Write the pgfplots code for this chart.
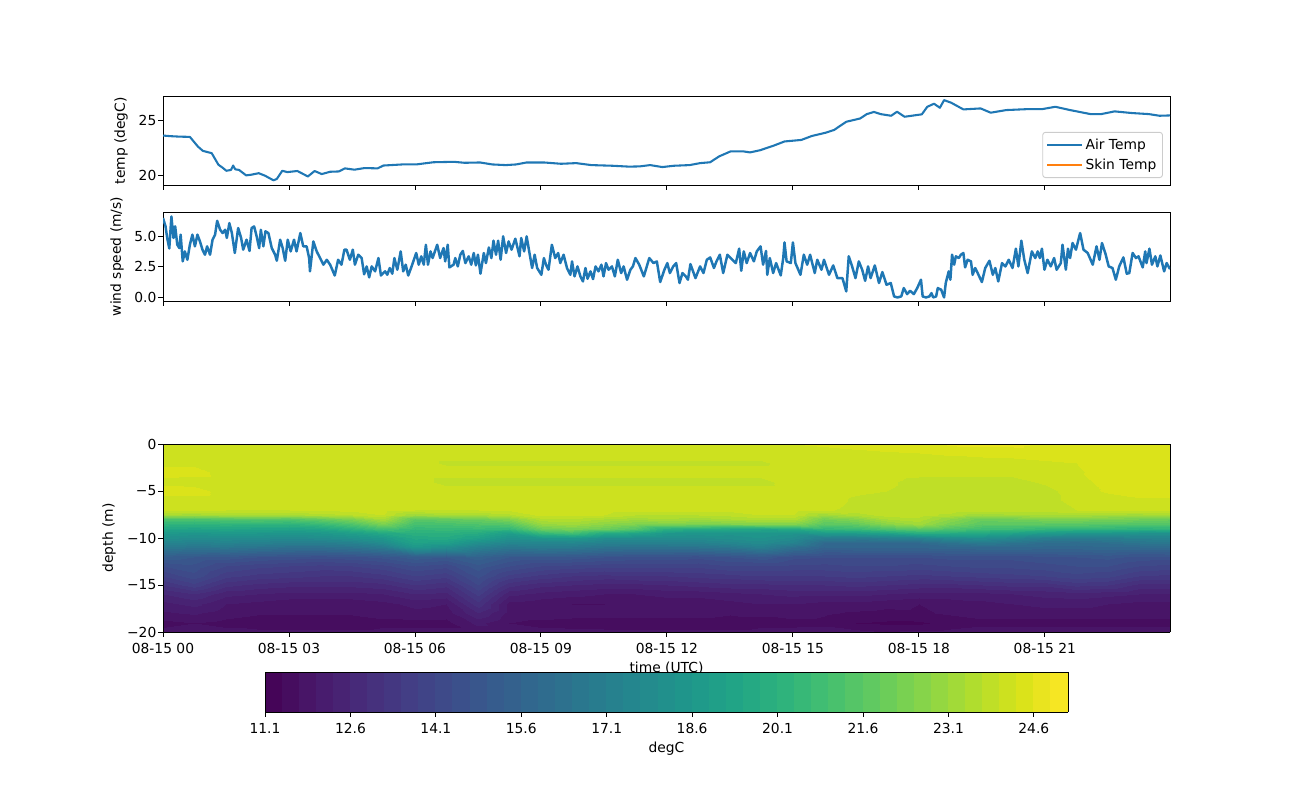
\documentclass[border=0pt]{standalone}
\usepackage{fontspec}
\setmainfont{DejaVu Sans}
\usepackage{pgfplots}
\pgfplotsset{compat=1.18}
\usepgfplotslibrary{colormaps}
\definecolor{mplblue}{HTML}{1F77B4}
\definecolor{mplorange}{HTML}{FF7F0E}
\pgfplotsset{
  every axis/.append style={
    scale only axis, anchor=south west,
    font=\fontsize{10}{12}\selectfont,
    line width=0.65pt,
    tick align=outside, tick pos=left,
    major tick length=3.5pt,
    every tick/.style={black, line width=0.65pt},
    xmin=0, xmax=23.98,
    xtick={0,3,6,9,12,15,18,21},
    y tick label style={inner sep=1pt},
    x tick label style={yshift=-1pt},
  },
}
\begin{document}
\begin{tikzpicture}
\path[use as bounding box] (0,0) rectangle (13in,-8in);

% --- air temperature ---
\begin{axis}[
  at={(1.63in,-1.85in)}, width=10.07in, height=0.885in,
  ymin=19.12, ymax=27.21,
  ytick={20,25}, yticklabels={20,25},
  xticklabels={},
  ylabel={temp (degC)},
  ylabel style={at={(axis description cs:-0.0417,0.5)}, anchor=center},
  legend style={at={(0.993,0.079)}, anchor=south east, draw=black!20,
    rounded corners=2pt, nodes={font=\fontsize{10}{12}\selectfont},
    row sep=1.5pt, inner sep=2.5pt},
  legend cell align=left,
  legend image code/.code={\path (0pt,0pt) -- (25pt,0pt); \draw[#1] (0pt,0pt) -- (20pt,0pt);},
]
\addplot[mplblue, line width=1.5pt, line join=round] table {
0 23.64
0.2 23.58
0.4 23.54
0.64 23.52
0.83 22.64
0.95 22.24
1.16 22.03
1.32 20.97
1.4 20.76
1.51 20.42
1.62 20.5
1.67 20.9
1.72 20.55
1.81 20.5
1.98 20
2.1 20.06
2.28 20.2
2.43 19.97
2.63 19.55
2.71 19.67
2.84 20.42
2.96 20.3
3.2 20.4
3.45 19.9
3.61 20.4
3.78 20.12
3.98 20.33
4.19 20.36
4.33 20.64
4.56 20.52
4.8 20.67
5.11 20.64
5.25 20.9
5.7 21.0
6.03 21.0
6.44 21.2
6.93 21.24
7.18 21.15
7.55 21.18
7.84 21.0
8.16 20.94
8.41 21.0
8.66 21.18
9.07 21.18
9.48 21.06
9.84 21.12
10.2 20.94
10.7 20.88
11.1 20.8
11.35 20.82
11.6 20.94
11.89 20.76
12.17 20.88
12.54 20.94
12.79 21.12
13.03 21.2
13.24 21.73
13.52 22.2
13.81 22.2
13.98 22.1
14.22 22.3
14.55 22.73
14.8 23.1
15.2 23.24
15.45 23.6
15.78 23.9
15.98 24.15
16.27 24.9
16.6 25.2
16.76 25.6
16.93 25.8
17.09 25.6
17.34 25.45
17.48 25.82
17.66 25.36
18.07 25.58
18.2 26.27
18.36 26.55
18.5 26.18
18.6 26.88
18.77 26.64
19.06 26.03
19.47 26.12
19.71 25.73
20.08 25.97
20.61 26.06
20.94 26.06
21.25 26.27
21.6 25.97
22.09 25.6
22.34 25.6
22.66 25.85
23.07 25.7
23.48 25.6
23.73 25.45
23.98 25.48
};
\addlegendentry{Air Temp}
\addlegendimage{mplorange, line width=1.5pt}
\addlegendentry{Skin Temp}
\end{axis}

% --- wind speed ---
\begin{axis}[
  at={(1.63in,-3.01in)}, width=10.07in, height=0.89in,
  ymin=-0.27, ymax=6.96,
  ytick={0,2.5,5}, yticklabels={0.0,2.5,5.0},
  xticklabels={},
  ylabel={wind speed (m/s)},
  ylabel style={at={(axis description cs:-0.0457,0.5)}, anchor=center},
]
\addplot[mplblue, line width=1.8pt, line join=round] table {
0.00 6.47
0.06 5.8
0.10 4.85
0.15 4.0
0.20 6.6
0.25 4.85
0.29 5.8
0.34 4.3
0.39 4.03
0.42 5.12
0.47 2.95
0.52 3.76
0.58 3.08
0.64 4.3
0.70 5.12
0.76 4.17
0.82 5.12
0.88 4.57
0.94 3.9
1.0 3.49
1.05 4.17
1.12 3.49
1.18 4.71
1.24 5.12
1.29 6.25
1.36 5.52
1.42 5.25
1.48 5.52
1.52 4.85
1.58 6.06
1.64 5.25
1.71 3.63
1.79 5.66
1.86 4.85
1.91 3.9
1.99 4.71
2.06 3.8
2.11 5.66
2.17 5.79
2.23 4.98
2.29 4.03
2.33 5.52
2.39 4.17
2.44 5.39
2.51 5.25
2.59 4.03
2.67 3.49
2.71 3.0
2.79 4.71
2.85 4.03
2.91 3.0
2.97 4.71
3.04 3.76
3.12 4.71
3.18 3.76
3.27 5.25
3.34 4.17
3.42 4.17
3.48 3.22
3.50 2.14
3.58 4.57
3.66 3.76
3.74 3.22
3.82 2.68
3.90 3.08
3.98 2.68
4.09 1.8
4.17 3.08
4.25 2.68
4.32 3.9
4.37 3.9
4.45 3.08
4.52 3.9
4.57 2.68
4.65 3.49
4.73 3.22
4.79 1.9
4.85 2.54
4.91 1.65
4.97 2.54
5.05 2.14
5.13 3.22
5.19 1.8
5.29 2.14
5.34 1.86
5.40 2.41
5.46 1.95
5.51 3.22
5.58 2.27
5.66 3.76
5.72 2.14
5.78 2.68
5.84 1.8
5.92 2.54
6.03 3.63
6.09 2.68
6.15 3.36
6.21 2.68
6.26 4.3
6.31 2.68
6.37 3.76
6.42 3.22
6.53 4.3
6.60 3.22
6.68 4.03
6.72 2.95
6.78 4.3
6.82 2.46
6.92 2.68
6.96 3.22
7.02 2.54
7.08 3.49
7.14 3.8
7.2 2.81
7.28 3.36
7.34 2.68
7.40 3.63
7.45 2.62
7.50 3.49
7.56 1.95
7.64 3.63
7.69 2.81
7.76 4.08
7.82 3.22
7.87 4.63
7.93 3.49
7.98 4.63
8.04 3.08
8.10 4.98
8.17 3.63
8.23 4.57
8.30 3.9
8.39 4.79
8.49 3.36
8.53 4.85
8.60 3.76
8.66 4.98
8.72 3.76
8.79 2.41
8.85 3.49
8.91 2.41
9.01 1.86
9.07 3.22
9.12 2.68
9.18 2.27
9.26 4.3
9.34 3.22
9.41 3.63
9.46 2.81
9.54 3.49
9.62 2.41
9.70 1.86
9.74 2.95
9.80 1.73
9.87 2.54
9.94 1.73
10.0 1.32
10.06 2.41
10.11 1.54
10.18 2.14
10.24 1.51
10.30 2.54
10.37 2.14
10.44 2.68
10.49 1.73
10.55 2.81
10.61 2.27
10.69 2.54
10.76 1.73
10.83 3.08
10.91 2.0
10.97 2.54
11.05 1.46
11.13 2.27
11.19 2.54
11.25 3.22
11.34 2.68
11.45 1.73
11.58 3.22
11.68 2.81
11.76 2.95
11.84 1.27
11.94 2.27
12.01 2.81
12.07 2.0
12.15 2.54
12.22 2.81
12.30 1.19
12.37 2.0
12.45 1.73
12.50 1.46
12.56 2.73
12.68 1.59
12.79 2.54
12.87 2.0
12.95 3.08
13.03 3.27
13.12 2.41
13.18 2.95
13.26 3.49
13.34 2.0
13.44 3.49
13.56 3.08
13.64 2.81
13.72 3.98
13.77 2.19
13.83 3.76
13.90 2.81
13.98 3.63
14.07 2.95
14.14 3.76
14.23 4.17
14.29 2.68
14.36 3.8
14.39 1.86
14.45 3.22
14.53 2.0
14.60 2.81
14.71 1.81
14.77 3.22
14.80 4.49
14.85 2.95
14.95 2.81
15.0 4.49
15.06 2.81
15.18 1.86
15.26 3.49
15.34 2.68
15.41 3.49
15.52 2.0
15.58 3.08
15.68 2.27
15.74 3.08
15.86 1.86
15.96 2.62
16.06 1.59
16.18 1.59
16.27 0.51
16.33 3.36
16.41 2.54
16.49 1.59
16.57 2.95
16.65 2.27
16.72 1.37
16.79 2.54
16.85 1.59
16.95 2.62
17.05 1.19
17.13 2.08
17.23 1.05
17.33 1.19
17.41 0.10
17.49 0.02
17.58 0.10
17.64 0.78
17.72 0.29
17.79 0.56
17.88 0.29
17.96 0.78
18.05 1.46
18.09 0.10
18.17 0.02
18.25 0.10
18.30 0.37
18.34 0.02
18.41 0.10
18.45 0.78
18.53 0.65
18.60 0.02
18.64 1.19
18.71 2.14
18.75 1.46
18.79 3.49
18.84 2.68
18.88 3.36
18.95 3.22
19.0 3.49
19.06 3.63
19.10 2.46
19.16 3.08
19.24 2.95
19.28 1.86
19.34 2.41
19.40 2.0
19.50 1.27
19.58 2.41
19.68 3.0
19.76 1.86
19.82 2.41
19.89 1.32
19.98 2.81
20.06 2.54
20.14 3.08
20.23 2.41
20.31 3.98
20.37 2.54
20.44 4.63
20.51 3.08
20.59 2.0
20.69 3.76
20.77 3.22
20.83 3.76
20.88 3.22
20.93 3.98
20.99 2.27
21.06 3.08
21.14 2.54
21.22 3.22
21.28 2.27
21.38 2.81
21.42 4.3
21.50 2.27
21.55 3.98
21.60 3.22
21.66 4.44
21.74 3.9
21.84 5.25
21.92 3.9
22.02 3.63
22.14 2.68
22.23 4.17
22.30 3.08
22.36 4.44
22.45 3.49
22.52 2.54
22.61 2.41
22.69 1.46
22.77 2.54
22.87 3.27
22.95 1.95
23.01 2.0
23.09 3.63
23.17 3.22
23.23 3.36
23.33 2.46
23.39 3.76
23.42 2.81
23.49 3.98
23.55 2.68
23.63 3.36
23.68 2.54
23.75 3.43
23.84 2.14
23.90 2.81
23.98 2.32
};
\end{axis}

% --- temperature section: 33 columns (every 0.75 h), 25 depths per column ---
\begin{axis}[
  at={(1.63in,-6.32in)}, width=10.07in, height=1.88in,
  view={0}{90},
  ymin=-20, ymax=0,
  ytick={-20,-15,-10,-5,0}, yticklabels={−20,−15,−10,−5,0},
  xticklabels={08-15 00,08-15 03,08-15 06,08-15 09,08-15 12,08-15 15,08-15 18,08-15 21},
  xlabel={time (UTC)},
  xlabel style={at={(axis description cs:0.5,-0.19)}, anchor=center},
  ylabel={depth (m)},
  ylabel style={at={(axis description cs:-0.0536,0.5)}, anchor=center},
  axis on top,
  point meta min=11.1, point meta max=25.2,
  colormap/viridis,
  % band colours taken at the band centres, as contourf does
  colormap={cb47}{colors of colormap=(10.6,31.9,53.2,74.5,95.7,117,138.3,159.6,180.9,202.1,223.4,244.7,266,287.2,308.5,329.8,351.1,372.3,393.6,414.9,436.2,457.4,478.7,500,521.3,542.6,563.8,585.1,606.4,627.7,648.9,670.2,691.5,712.8,734,755.3,776.6,797.9,819.1,840.4,861.7,883,904.3,925.5,946.8,968.1,989.4 of viridis)},
  colormap access=piecewise constant,
  colorbar horizontal,
  colorbar sampled,
  colorbar style={
    samples=48,
    at={(0.1013,-0.2128)}, anchor=north west,
    width=8.03in, height=0.40in,
    xtick={11.1,12.6,14.1,15.6,17.1,18.6,20.1,21.6,23.1,24.6},
    xticklabels={11.1,12.6,14.1,15.6,17.1,18.6,20.1,21.6,23.1,24.6},
    xlabel={degC},
    xlabel style={at={(axis description cs:0.5,-0.92)}, anchor=center},
    tick pos=lower,
  },
]
\addplot3[surf, shader=interp, mesh/rows=25, mesh/cols=33, mesh/ordering=y varies]
  table[row sep=crcr, header=false, z index=0,
    x expr={0.75*floor(\coordindex/25)},
    y expr={mod(\coordindex,25)<=7 ? -mod(\coordindex,25) : (mod(\coordindex,25)<=15 ? -3.5-mod(\coordindex,25)/2 : 4-mod(\coordindex,25))}] {
24.15\\24.15\\24.2\\24.45\\24.2\\24.45\\24.15\\24.1\\23.3\\21.3\\20.3\\19.4\\18.7\\18.1\\17.4\\16.8\\15.2\\14.4\\13.8\\13.2\\12.6\\12.2\\11.95\\11.6\\11.8\\
24.15\\24.15\\24.2\\24.45\\24.15\\24.45\\24.15\\24.1\\23.2\\21.2\\20.2\\19.3\\18.5\\17.9\\17.2\\16.6\\15.0\\14.6\\14.3\\13.7\\12.9\\12.4\\12.05\\11.7\\11.9\\
24.15\\24.15\\24.15\\24.15\\24.15\\24.15\\24.15\\24.0\\23.3\\21.4\\20.3\\19.4\\18.7\\18.0\\17.3\\16.7\\14.9\\14.1\\13.6\\13.0\\12.4\\12.0\\11.85\\11.6\\11.8\\
24.15\\24.15\\24.15\\24.15\\24.15\\24.15\\24.15\\24.0\\23.4\\21.5\\20.3\\19.3\\18.6\\17.9\\17.2\\16.5\\14.7\\13.9\\13.4\\12.8\\12.3\\11.9\\11.75\\11.5\\11.8\\
24.15\\24.15\\24.15\\24.15\\24.15\\24.15\\24.15\\24.0\\23.3\\21.4\\20.2\\19.2\\18.5\\17.8\\17.0\\16.3\\14.6\\13.8\\13.3\\12.7\\12.2\\11.8\\11.75\\11.5\\11.8\\
24.15\\24.15\\24.15\\24.15\\24.15\\24.15\\24.15\\24.05\\23.5\\21.8\\20.6\\19.4\\18.6\\17.9\\17.0\\16.3\\14.5\\13.7\\13.2\\12.7\\12.2\\11.8\\11.75\\11.5\\11.8\\
24.15\\24.15\\24.15\\24.15\\24.15\\24.15\\24.15\\24.1\\23.7\\22.4\\21.3\\20.1\\19.0\\18.2\\17.2\\16.5\\14.6\\13.8\\13.2\\12.7\\12.2\\11.8\\11.75\\11.5\\11.8\\
24.15\\24.15\\24.15\\24.15\\24.15\\24.15\\24.15\\24.15\\24.0\\23.4\\22.4\\21.0\\19.6\\18.6\\17.8\\16.9\\14.8\\14.0\\13.4\\12.8\\12.3\\11.9\\11.85\\11.6\\11.8\\
24.15\\24.15\\24.15\\24.15\\24.15\\24.15\\24.15\\24.0\\23.1\\21.6\\21.0\\20.4\\20.0\\19.6\\19.2\\18.6\\15.2\\14.4\\13.8\\13.2\\12.6\\12.1\\11.9\\11.6\\11.8\\
24.15\\24.15\\23.95\\24.15\\23.9\\24.15\\24.15\\24.0\\23.3\\21.8\\21.1\\20.6\\20.1\\19.7\\19.0\\18.0\\15.0\\14.2\\13.6\\13.0\\12.5\\12.0\\11.85\\11.6\\11.8\\
24.15\\24.15\\23.95\\24.15\\23.9\\24.15\\24.15\\24.0\\23.3\\22.0\\21.3\\20.6\\19.8\\19.1\\18.0\\17.2\\15.5\\14.9\\14.5\\14.1\\13.6\\13.1\\12.6\\12.1\\11.8\\
24.15\\24.15\\23.95\\24.15\\23.9\\24.15\\24.15\\24.05\\23.6\\22.5\\21.5\\20.4\\19.0\\18.2\\17.4\\16.7\\15.0\\14.4\\13.7\\13.0\\12.4\\11.9\\11.9\\11.7\\11.8\\
24.15\\24.15\\23.95\\24.15\\23.9\\24.15\\24.15\\24.15\\24.1\\23.6\\23.0\\22.0\\20.5\\18.5\\17.5\\16.9\\15.0\\14.1\\13.4\\12.7\\12.2\\11.8\\11.9\\11.6\\11.8\\
24.15\\24.15\\23.95\\24.15\\23.9\\24.15\\24.15\\24.15\\24.1\\23.7\\23.2\\22.3\\21.0\\18.6\\17.5\\16.8\\14.9\\14.0\\13.2\\12.6\\12.1\\11.7\\11.85\\11.55\\11.8\\
24.15\\24.15\\23.95\\24.15\\23.9\\24.15\\24.15\\24.15\\24.0\\23.4\\22.8\\22.0\\19.8\\18.0\\17.2\\16.5\\14.7\\13.9\\13.1\\12.5\\12.0\\11.7\\11.85\\11.5\\11.8\\
24.15\\24.15\\23.95\\24.15\\23.9\\24.15\\24.15\\24.1\\23.7\\23.2\\22.5\\21.4\\19.4\\18.0\\17.2\\16.4\\14.6\\13.9\\13.2\\12.5\\12.0\\11.75\\11.85\\11.5\\11.8\\
24.15\\24.15\\23.95\\24.15\\23.9\\24.15\\24.15\\24.1\\23.7\\23.4\\22.5\\19.9\\18.6\\17.9\\17.2\\16.4\\14.6\\13.9\\13.2\\12.6\\12.1\\11.8\\11.85\\11.5\\11.8\\
24.15\\24.15\\23.95\\24.15\\23.9\\24.15\\24.15\\24.1\\23.7\\23.2\\22.4\\19.7\\18.5\\17.9\\17.2\\16.5\\14.5\\13.9\\13.3\\12.7\\12.1\\11.8\\11.85\\11.5\\11.8\\
24.15\\24.15\\23.95\\24.15\\23.9\\24.15\\24.15\\24.1\\23.8\\23.4\\22.5\\19.5\\18.4\\18.1\\17.5\\16.7\\14.7\\14.1\\13.4\\12.8\\12.2\\11.9\\11.75\\11.5\\11.8\\
24.15\\24.15\\23.95\\24.15\\23.9\\24.15\\24.15\\24.15\\24.0\\23.6\\22.6\\19.4\\18.6\\18.3\\17.8\\17.2\\14.9\\14.1\\13.5\\12.8\\12.3\\12.0\\11.75\\11.6\\11.8\\
24.2\\24.15\\24.15\\24.15\\24.15\\24.15\\24.15\\24.15\\24.0\\23.6\\22.6\\19.6\\18.4\\17.9\\17.3\\16.3\\14.5\\14.0\\13.5\\12.9\\12.4\\12.0\\11.85\\11.6\\11.8\\
24.3\\24.2\\24.15\\24.15\\24.15\\24.15\\24.15\\24.05\\23.2\\22.2\\21.6\\20.4\\18.8\\17.0\\15.9\\15.6\\14.4\\14.0\\13.5\\12.9\\12.4\\11.9\\11.75\\11.6\\11.9\\
24.45\\24.2\\24.15\\24.15\\24.15\\24.05\\23.95\\23.9\\23.5\\22.6\\21.8\\20.6\\18.9\\16.9\\15.9\\15.7\\14.4\\14.1\\13.6\\13.0\\12.4\\11.9\\11.65\\11.4\\11.8\\
24.5\\24.25\\24.15\\24.15\\24.05\\24.0\\23.9\\23.9\\23.85\\23.4\\22.7\\21.2\\19.3\\17.1\\15.9\\15.7\\14.4\\14.1\\13.5\\12.9\\12.3\\11.8\\11.6\\11.35\\11.7\\
24.5\\24.3\\24.15\\24.1\\23.9\\23.9\\23.9\\23.9\\23.85\\23.6\\23.2\\21.6\\19.9\\17.3\\15.9\\15.7\\14.4\\14.0\\13.4\\12.8\\12.2\\11.7\\11.65\\11.35\\11.8\\
24.65\\24.35\\24.15\\24.1\\23.9\\23.9\\23.9\\23.9\\23.6\\22.8\\22.3\\21.2\\19.8\\17.8\\16.4\\15.8\\14.5\\14.1\\13.5\\12.8\\12.2\\11.8\\11.75\\11.5\\11.8\\
24.7\\24.4\\24.15\\24.1\\23.9\\23.9\\23.9\\23.9\\23.1\\22.0\\21.6\\20.8\\19.6\\18.0\\16.8\\15.9\\14.5\\14.2\\13.6\\12.9\\12.2\\11.9\\11.85\\11.6\\11.9\\
24.7\\24.4\\24.2\\24.1\\23.9\\23.9\\23.9\\23.9\\23.3\\22.2\\21.7\\20.7\\19.2\\17.6\\16.4\\15.9\\14.5\\14.2\\13.7\\13.0\\12.3\\12.0\\11.85\\11.6\\11.9\\
24.65\\24.45\\24.25\\24.15\\24.05\\23.9\\23.9\\23.9\\23.4\\22.4\\21.6\\20.4\\18.8\\17.0\\16.1\\15.8\\14.6\\14.3\\13.8\\13.0\\12.4\\12.1\\11.85\\11.6\\11.9\\
24.5\\24.4\\24.3\\24.25\\24.15\\24.15\\24.1\\24.0\\23.4\\22.4\\21.6\\20.2\\18.5\\16.9\\16.0\\15.8\\14.7\\14.4\\14.0\\13.3\\12.5\\12.1\\11.85\\11.6\\11.9\\
24.5\\24.45\\24.45\\24.45\\24.45\\24.35\\24.15\\24.1\\23.3\\22.3\\21.5\\20.2\\18.5\\17.0\\16.2\\15.9\\14.8\\14.4\\13.9\\13.2\\12.4\\12.0\\11.85\\11.6\\11.9\\
24.45\\24.45\\24.45\\24.45\\24.45\\24.45\\24.25\\24.15\\23.2\\22.2\\21.4\\20.1\\18.3\\17.2\\16.5\\15.9\\14.6\\14.1\\13.5\\12.8\\12.3\\11.9\\11.85\\11.6\\11.9\\
24.5\\24.45\\24.45\\24.45\\24.45\\24.45\\24.25\\24.15\\23.3\\22.0\\21.4\\20.2\\18.3\\17.3\\16.6\\16.0\\14.6\\14.0\\13.4\\12.8\\12.3\\11.9\\11.85\\11.6\\11.9\\
};
\end{axis}
\end{tikzpicture}
\end{document}
